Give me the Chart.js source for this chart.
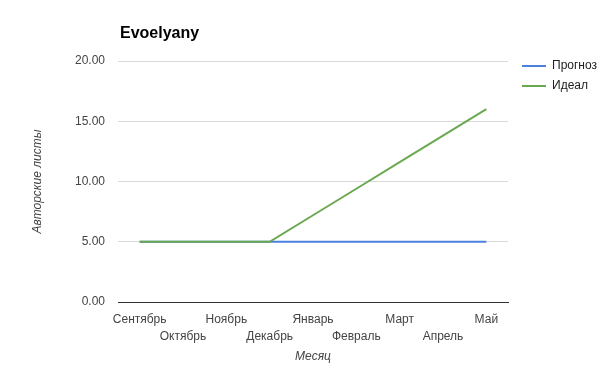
<!DOCTYPE html>
<html>
<head>
<meta charset="utf-8">
<script src="https://cdn.jsdelivr.net/npm/chart.js@4"></script>
<style>
  html, body { margin: 0; padding: 0; background: #fff; }
  #wrap { width: 605px; height: 370px; }
</style>
</head>
<body>
<div id="wrap"><canvas id="evoChart" width="605" height="370"></canvas></div>
<script>
var months = ["Сентябрь", "Октябрь", "Ноябрь", "Декабрь", "Январь", "Февраль", "Март", "Апрель", "Май"];
var prognoz = [5, 5, 5, 5, 5, 5, 5, 5, 5];
var ideal = [5, 5, 5, 5, 7.2, 9.4, 11.6, 13.8, 16];
var yTicks = [0, 5, 10, 15, 20];

var FONT = "'Liberation Sans', Arial, sans-serif";

// title and legend are painted by hand so they sit where the original has them
var decor = {
    id: 'decor',
    afterDraw: function (chart) {
        var c = chart.ctx;
        c.save();
        c.fillStyle = '#000';
        c.font = 'bold 16px ' + FONT;
        c.textBaseline = 'alphabetic';
        c.fillText('Evoelyany', 120, 38);

        c.font = '12px ' + FONT;
        c.textBaseline = 'middle';
        chart.data.datasets.forEach(function (ds, i) {
            var y = 66 + i * 20;
            c.strokeStyle = ds.borderColor;
            c.lineWidth = 2;
            c.beginPath();
            c.moveTo(522, y);
            c.lineTo(546, y);
            c.stroke();
            c.fillStyle = '#222';
            c.fillText(ds.label, 552, y);
        });
        c.restore();
    }
};

var ctx = document.getElementById('evoChart').getContext('2d');
var chart = new Chart(ctx, {
    type: 'line',
    data: {
        labels: months,
        datasets: [{
            label: 'Прогноз',
            data: prognoz,
            borderColor: '#4b7fe0',
            borderWidth: 2,
            pointRadius: 0,
            tension: 0,
            order: 1
        }, {
            label: 'Идеал',
            data: ideal,
            borderColor: '#6aa84f',
            borderWidth: 2,
            pointRadius: 0,
            tension: 0,
            order: 0
        }]
    },
    options: {
        responsive: false,
        animation: false,
        layout: { padding: { left: 0, top: 61, right: 97, bottom: 2 } },
        plugins: {
            legend: { display: false },
            title: { display: false },
            tooltip: { enabled: false }
        },
        scales: {
            x: {
                offset: true,
                grid: { display: false, drawTicks: false },
                border: { color: '#333', width: 1 },
                ticks: {
                    autoSkip: false,
                    maxRotation: 0,
                    padding: 9,
                    color: '#444',
                    font: { family: FONT, size: 12, lineHeight: 1.4 },
                    callback: function (v, i) {
                        return i % 2 ? ['', months[i]] : months[i];
                    }
                },
                title: {
                    display: true,
                    text: 'Месяц',
                    color: '#444',
                    padding: { top: 4, bottom: 4 },
                    font: { family: FONT, size: 12, style: 'italic' }
                },
                afterFit: function (s) { s.height = 66; }
            },
            y: {
                min: yTicks[0],
                max: yTicks[yTicks.length - 1],
                afterBuildTicks: function (s) {
                    s.ticks = yTicks.map(function (v) { return { value: v }; });
                },
                grid: { color: '#d9d9d9', drawTicks: false },
                border: { display: false },
                ticks: {
                    padding: 13,
                    color: '#444',
                    font: { family: FONT, size: 12 },
                    callback: function (v) { return v.toFixed(2); }
                },
                title: {
                    display: true,
                    text: 'Авторские листы',
                    color: '#444',
                    padding: { top: 30, bottom: 0 },
                    font: { family: FONT, size: 12, style: 'italic' }
                },
                afterFit: function (s) { s.width = 118; }
            }
        }
    },
    plugins: [decor]
});
</script>
</body>
</html>
